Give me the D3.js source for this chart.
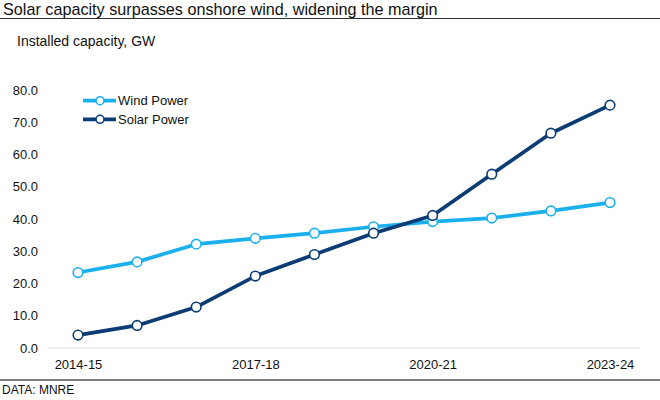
<!DOCTYPE html>
<html>
<head>
<meta charset="utf-8">
<script src="https://cdn.jsdelivr.net/npm/d3@7"></script>
<style>
  body { margin: 0; background: #fff; }
  svg { font-family: "Liberation Sans", Arial, sans-serif; }
</style>
</head>
<body>
<svg id="chart" width="660" height="400"></svg>
<script>
const years = ['2014-15', '2015-16', '2016-17', '2017-18', '2018-19', '2019-20', '2020-21', '2021-22', '2022-23', '2023-24'];
const windPower = [23.4, 26.7, 32.2, 34.0, 35.6, 37.6, 39.2, 40.3, 42.5, 45.1];
const solarPower = [4.0, 7.0, 12.7, 22.3, 29.0, 35.6, 41.1, 53.9, 66.6, 75.3];
const yTicks = [0, 10, 20, 30, 40, 50, 60, 70, 80];
const xTickLabels = ['2014-15', '2017-18', '2020-21', '2023-24'];

const series = [
  { name: 'Wind Power', values: windPower, color: '#1ab0ee' },
  { name: 'Solar Power', values: solarPower, color: '#0b3c74' }
];

const svg = d3.select('#chart');

const x = d3.scalePoint().domain(years).range([78, 610]);
const y = d3.scaleLinear().domain([0, 80]).range([348, 90]);

// title + rule
svg.append('text')
   .attr('x', 3).attr('y', 14.5)
   .attr('font-size', 16.2)
   .attr('fill', '#111')
   .text('Solar capacity surpasses onshore wind, widening the margin');
svg.append('line')
   .attr('x1', 0).attr('x2', 660).attr('y1', 18.5).attr('y2', 18.5)
   .attr('stroke', '#333').attr('stroke-width', 1.2);

svg.append('text')
   .attr('x', 17).attr('y', 46)
   .attr('font-size', 14)
   .attr('fill', '#111')
   .text('Installed capacity, GW');

// y axis (labels only)
const yAxis = svg.append('g')
   .attr('transform', 'translate(40,0)')
   .call(d3.axisLeft(y).tickValues(yTicks).tickFormat(d3.format('.1f')).tickSize(0).tickPadding(2));
yAxis.select('.domain').remove();
yAxis.selectAll('text').attr('font-size', 13).attr('fill', '#111')
     .attr('font-family', '"Liberation Sans", Arial, sans-serif');

// x axis
const xAxis = svg.append('g')
   .attr('transform', 'translate(0,348)')
   .call(d3.axisBottom(x).tickValues(xTickLabels).tickSize(0).tickPadding(12));
xAxis.select('.domain').remove();
xAxis.selectAll('text').attr('font-size', 13).attr('fill', '#111')
     .attr('font-family', '"Liberation Sans", Arial, sans-serif');

svg.append('line')
   .attr('x1', 48).attr('x2', 640).attr('y1', y(0)).attr('y2', y(0))
   .attr('stroke', '#d9d9d9').attr('stroke-width', 1);

// lines + markers
const line = d3.line()
   .x((d, i) => x(years[i]))
   .y((d) => y(d));

series.forEach((s) => {
  svg.append('path')
     .datum(s.values)
     .attr('fill', 'none')
     .attr('stroke', s.color)
     .attr('stroke-width', 3.7)
     .attr('stroke-linejoin', 'round')
     .attr('d', line);

  svg.append('g').selectAll('circle')
     .data(s.values)
     .enter()
     .append('circle')
     .attr('cx', (d, i) => x(years[i]))
     .attr('cy', (d) => y(d))
     .attr('r', 4.8)
     .attr('fill', '#fff')
     .attr('stroke', s.color)
     .attr('stroke-width', 1.6);
});

// legend
const legend = svg.append('g').selectAll('g')
   .data(series)
   .enter()
   .append('g')
   .attr('transform', (d, i) => `translate(83,${100.7 + i * 18.6})`);
legend.append('line')
   .attr('x1', 0).attr('x2', 33)
   .attr('stroke', (d) => d.color).attr('stroke-width', 3.7);
legend.append('circle')
   .attr('cx', 17).attr('r', 4)
   .attr('fill', '#fff')
   .attr('stroke', (d) => d.color).attr('stroke-width', 1.6);
legend.append('text')
   .attr('x', 35).attr('dy', '0.35em')
   .attr('font-size', 13).attr('fill', '#111')
   .text((d) => d.name);

// footer
svg.append('line')
   .attr('x1', 0).attr('x2', 660).attr('y1', 380).attr('y2', 380)
   .attr('stroke', '#7f7f7f').attr('stroke-width', 2);
svg.append('text')
   .attr('x', 2).attr('y', 394)
   .attr('font-size', 12).attr('fill', '#111')
   .text('DATA: MNRE');
</script>
</body>
</html>
